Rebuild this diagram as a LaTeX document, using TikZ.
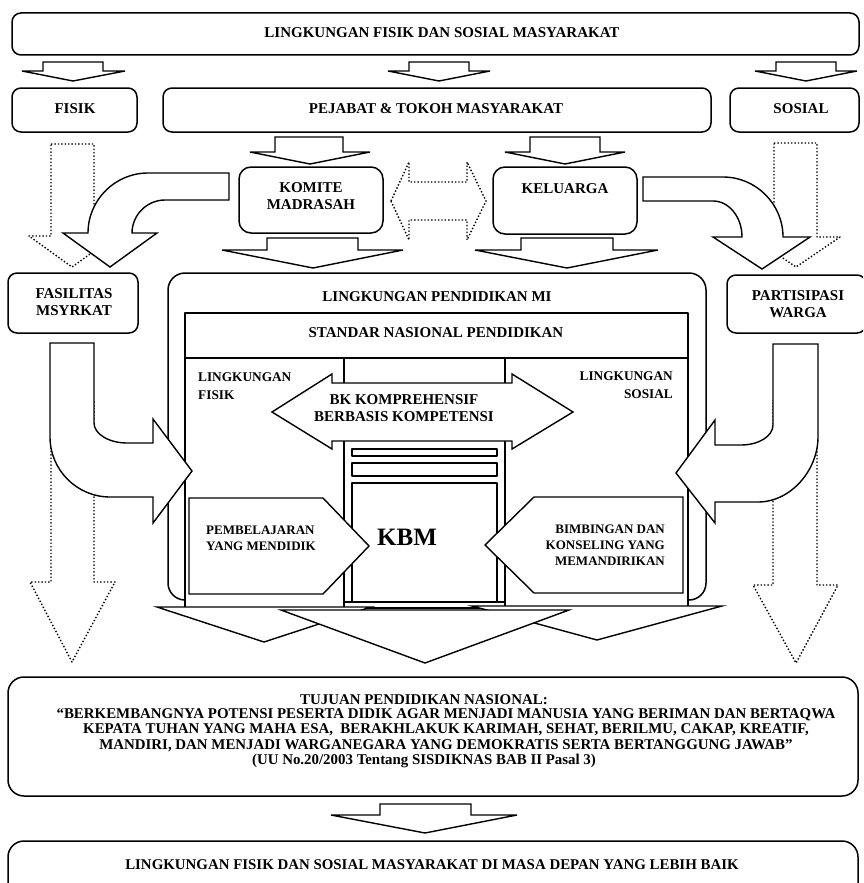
\documentclass[tikz,border=0pt]{standalone}
\usepackage{fontspec}
\setmainfont{Liberation Serif}
\tikzset{
  box/.style={line width=1.5pt, rounded corners=9pt, fill=white},
  flat/.style={line width=1.5pt, fill=white},
  blk/.style={line width=1.4pt, fill=white, line join=miter},
  dots/.style={line width=1.4pt, dash pattern=on 1.4pt off 2pt, fill=white},
  lbl/.style={font=\fontsize{15}{17}\selectfont\bfseries, align=center, inner sep=0pt},
  lblsmall/.style={font=\fontsize{13.3}{18}\selectfont\bfseries, inner sep=0pt},
  lbltiny/.style={font=\fontsize{13}{16}\selectfont\bfseries, inner sep=0pt},
  lblbawah/.style={font=\fontsize{14.9}{15.3}\selectfont\bfseries, align=center, inner sep=0pt},
}
\begin{document}
\begin{tikzpicture}[x=1pt, y=-1pt, line join=round]
  \useasboundingbox (0,0) rectangle (863,883);
  \clip (0,0) rectangle (863,883);

  % lingkungan atas
  \draw[box] (12,13) rectangle (859,55);
  \node[lbl] (lingatas) at (442,33) {LINGKUNGAN FISIK DAN SOSIAL MASYARAKAT};
  \draw[blk] (43,62)--(103,62)--(103,71)--(125,71)--(73,81)--(22,71)--(43,71)--cycle;
  \draw[blk] (409,62)--(469,62)--(469,71)--(490,71)--(439,81)--(388,71)--(409,71)--cycle;
  \draw[blk] (776,62)--(836,62)--(836,71)--(857,71)--(806,81)--(755,71)--(776,71)--cycle;

  \draw[box] (12,88) rectangle (137,132);
  \node[lbl] (fisik) at (75,109) {FISIK};
  \draw[box] (163,88) rectangle (711,132);
  \node[lbl] (pejabat) at (436,109) {PEJABAT \& TOKOH MASYARAKAT};
  \draw[box] (730,88) rectangle (859,132);
  \node[lbl] (sosial) at (801,109) {SOSIAL};

  % komite dan keluarga
  \draw[blk] (275,137)--(343,137)--(343,152)--(370,152)--(310,164)--(250,152)--(275,152)--cycle;
  \draw[blk] (530,137)--(600,137)--(600,152)--(625,152)--(565,164)--(505,152)--(530,152)--cycle;
  \draw[box, rounded corners=12pt] (239,167) rectangle (383,233);
  \node[lbl] (komite) at (311,196) {KOMITE\\MADRASAH};
  \draw[box, rounded corners=12pt] (493,167) rectangle (637,234);
  \node[lbl] (keluarga) at (565,189) {KELUARGA};
  \draw[dots] (391,201)--(409,162)--(409,182)--(467,182)--(467,162)--(486,201)
    --(467,240)--(467,220)--(409,220)--(409,240)--cycle;

  % panah titik atas
  \draw[dots] (51,144)--(94,144)--(94,236)--(115,236)--(72,267)--(29,236)--(51,236)--cycle;
  \draw[dots] (774,143)--(817,143)--(817,237)--(840,237)--(796,267)--(752,237)--(774,237)--cycle;

  % panah lengkung atas
  \draw[blk] (229,173)--(148,173) .. controls (115,173) and (88,200) .. (88,233)
    --(63,233)--(110,267)--(157,233)--(132,233) .. controls (132,215) and (147,200) .. (165,200)
    --(229,200)--cycle;
  \draw[blk] (643,177)--(723,177) .. controls (756,177) and (783,204) .. (783,237)
    --(810,237)--(762,269)--(713,237)--(742,237) .. controls (742,217) and (729,201) .. (713,201)
    --(643,201)--cycle;

  \draw[blk] (267,238)--(358,238)--(358,250)--(403,250)--(313,268)--(222,250)--(267,250)--cycle;
  \draw[blk] (521,238)--(613,238)--(613,250)--(658,250)--(567,268)--(475,250)--(521,250)--cycle;

  \draw[box] (8,273) rectangle (138,333);
  \node[lbl] (fasilitas) at (74,302) {FASILITAS\\MSYRKAT};
  \draw[box] (727,275) rectangle (866,333);
  \node[lbl] (partisipasi) at (798,304) {PARTISIPASI\\WARGA};

  % lingkungan pendidikan MI
  \draw[box, rounded corners=17pt] (168,273) rectangle (706,600);
  \node[lbl] (lingmi) at (437,297) {LINGKUNGAN PENDIDIKAN MI};
  \draw[flat] (185,313) rectangle (688,358);
  \node[lbl] (snp) at (436,333) {STANDAR NASIONAL PENDIDIKAN};
  \draw[flat] (185,358) rectangle (344,608);
  \draw[flat] (505,358) rectangle (688,608);
  \draw[flat] (344,358) rectangle (505,608);
  \draw[flat] (352,449) rectangle (497,456);
  \draw[flat] (352,463) rectangle (497,476);
  \draw[flat] (352,483) rectangle (497,602);
  \draw[line width=1.5pt] (344,602)--(352,602) (497,602)--(505,602);
  \node[lblsmall, align=left, anchor=west] (lingfisik) at (198,386) {LINGKUNGAN\\FISIK};
  \node[lblsmall, align=right, anchor=east] (lingsosial) at (673,385) {LINGKUNGAN\\SOSIAL};
  \node[font=\fontsize{25}{27}\selectfont\bfseries, inner sep=0pt] (kbm) at (407,537) {KBM};

  % panah titik bawah
  \draw[dots] (51,400)--(94,400)--(94,582)--(115,582)--(72,662)--(30,582)--(51,582)--cycle;
  \draw[dots] (773,400)--(817,400)--(817,585)--(838,585)--(796,663)--(753,585)--(773,585)--cycle;

  % panah lengkung bawah
  \draw[blk] (50,343)--(94,343)--(94,423) .. controls (94,434) and (109,443) .. (127,443)
    --(153,443)--(153,419)--(192,471)--(153,523)--(153,497)--(110,497)
    .. controls (77,497) and (50,470) .. (50,437)--cycle;
  \draw[blk] (773,344)--(818,344)--(818,437) .. controls (818,470) and (791,502) .. (758,502)
    --(715,502)--(715,523)--(676,473)--(715,420)--(715,445)--(741,445)
    .. controls (759,445) and (773,436) .. (773,425)--cycle;

  % BK dan panah ke KBM
  \draw[blk] (272,412)--(332,374)--(332,383)--(512,383)--(512,374)--(573,412)
    --(512,449)--(512,441)--(332,441)--(332,449)--cycle;
  \node[lbl] (bk) at (404,408) {BK KOMPREHENSIF\\BERBASIS KOMPETENSI};
  \draw[blk] (189,498)--(323,498)--(369,546)--(323,594)--(189,594)--cycle;
  \node[lbltiny, align=left, anchor=west] (pembelajaran) at (206,538) {PEMBELAJARAN\\YANG MENDIDIK};
  \draw[blk] (683,497)--(534,497)--(485,545)--(534,593)--(683,593)--cycle;
  \node[lbltiny, align=right, anchor=east] (bimbingan) at (665,545) {BIMBINGAN DAN\\KONSELING YANG\\MEMANDIRIKAN};

  % panah keluar
  \draw[blk] (157,607)--(371,607)--(264,642)--cycle;
  \draw[blk] (472,606)--(722,606)--(597,640)--cycle;
  \draw[blk] (281,610)--(569,610)--(425,663)--cycle;

  % tujuan pendidikan nasional
  \draw[box, rounded corners=16pt] (8,677) rectangle (858,796);
  \node[lblbawah] (tujuan) at (424,700) {TUJUAN PENDIDIKAN NASIONAL:};
  \node[lblbawah] (kutipan) at (446,730)
    {“BERKEMBANGNYA POTENSI PESERTA DIDIK AGAR MENJADI MANUSIA YANG BERIMAN DAN BERTAQWA\\
     KEPATA TUHAN YANG MAHA ESA,\ \ BERAKHLAKUK KARIMAH, SEHAT, BERILMU, CAKAP, KREATIF,\\
     MANDIRI, DAN MENJADI WARGANEGARA YANG DEMOKRATIS SERTA BERTANGGUNG JAWAB”};
  \node[lblbawah] (uu) at (424,761) {(UU No.20/2003 Tentang SISDIKNAS BAB II Pasal 3)};
  \draw[blk] (380,804)--(471,804)--(471,815)--(517,815)--(425,833)--(331,815)--(380,815)--cycle;
  \draw[box, rounded corners=16pt] (8,841) rectangle (858,905);
  \node[lblbawah] (lingdepan) at (432,865) {LINGKUNGAN FISIK DAN SOSIAL MASYARAKAT DI MASA DEPAN YANG LEBIH BAIK};
\end{tikzpicture}
\end{document}
